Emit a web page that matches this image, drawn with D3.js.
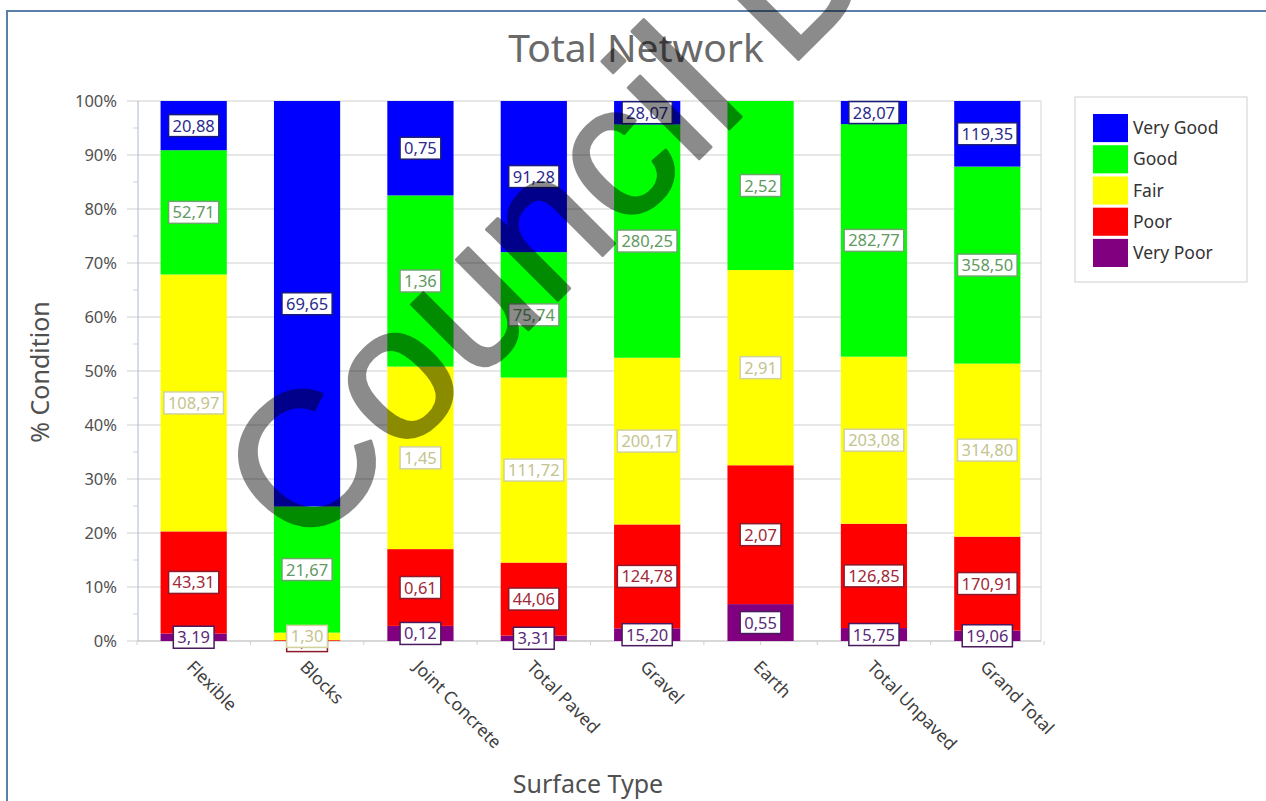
<!DOCTYPE html>
<html>
<head>
<meta charset="utf-8">
<script src="https://cdn.jsdelivr.net/npm/d3@7/dist/d3.min.js"></script>
<style>
  html, body { margin: 0; padding: 0; background: #ffffff; }
  svg { display: block; }
  text { font-family: "Noto Sans", "Open Sans", sans-serif; }
</style>
</head>
<body>
<svg id="chart" width="1266" height="801"></svg>
<script>
// Road lengths (km) per surface type and condition class
const categories = ["Flexible", "Blocks", "Joint Concrete", "Total Paved", "Gravel", "Earth", "Total Unpaved", "Grand Total"];
const seriesNames = ["Very Good", "Good", "Fair", "Poor", "Very Poor"];
const veryGood = [20.88, 69.65, 0.75, 91.28, 28.07, 0, 28.07, 119.35];
const good     = [52.71, 21.67, 1.36, 75.74, 280.25, 2.52, 282.77, 358.50];
const fair     = [108.97, 1.30, 1.45, 111.72, 200.17, 2.91, 203.08, 314.80];
const poor     = [43.31, 0.14, 0.61, 44.06, 124.78, 2.07, 126.85, 170.91];
const veryPoor = [3.19, 0, 0.12, 3.31, 15.20, 0.55, 15.75, 19.06];
const yTickValues = [0, 0.1, 0.2, 0.3, 0.4, 0.5, 0.6, 0.7, 0.8, 0.9, 1.0];

const seriesValues = {
  "Very Good": veryGood, "Good": good, "Fair": fair, "Poor": poor, "Very Poor": veryPoor
};
const fillColor = {
  "Very Good": "#0000ff", "Good": "#00ff00", "Fair": "#ffff00", "Poor": "#ff0000", "Very Poor": "#800080"
};
const labelText = {
  "Very Good": "#2b2b8c", "Good": "#5f9a5f", "Fair": "#c4c48e", "Poor": "#a02838", "Very Poor": "#5a2a78"
};
const labelBorder = {
  "Very Good": "#1a1a7a", "Good": "#6aa86a", "Fair": "#d2d29a", "Poor": "#8c1a2a", "Very Poor": "#4a1a5e"
};

const rows = categories.map((c, i) => {
  const r = { category: c };
  seriesNames.forEach(s => { r[s] = seriesValues[s][i]; });
  return r;
});

const svg = d3.select("#chart");

// outer frame
svg.append("rect")
  .attr("x", 7).attr("y", 11).attr("width", 1290).attr("height", 820)
  .attr("fill", "none").attr("stroke", "#5b7fa8").attr("stroke-width", 2);

const plot = { left: 138, right: 1041, top: 101, bottom: 641 };

const x = d3.scaleBand()
  .domain(categories)
  .range([plot.left - 1, plot.right + 3])
  .paddingInner(0.416)
  .paddingOuter(0.208);

const y = d3.scaleLinear().domain([0, 1]).range([plot.bottom, plot.top]);

// stack bottom-up, normalised to 100 %
const stackKeys = seriesNames.slice().reverse();
const stacked = d3.stack().keys(stackKeys).offset(d3.stackOffsetExpand)(rows);

// gridlines
svg.append("g")
  .selectAll("line")
  .data(yTickValues)
  .join("line")
  .attr("x1", plot.left - 11).attr("x2", plot.right)
  .attr("y1", d => y(d)).attr("y2", d => y(d))
  .attr("stroke", "#cfcfcf").attr("stroke-width", 1);

// minor ticks on the value axis
svg.append("g")
  .selectAll("line")
  .data(yTickValues.slice(0, -1).map(d => d + 0.05))
  .join("line")
  .attr("x1", plot.left - 5).attr("x2", plot.left)
  .attr("y1", d => y(d)).attr("y2", d => y(d))
  .attr("stroke", "#cfcfcf").attr("stroke-width", 1);

// plot frame
svg.append("line").attr("x1", plot.right).attr("x2", plot.right)
  .attr("y1", plot.top).attr("y2", plot.bottom).attr("stroke", "#d4d4d4");
svg.append("line").attr("x1", plot.left).attr("x2", plot.left)
  .attr("y1", plot.top).attr("y2", plot.bottom).attr("stroke", "#a9b8d6");
svg.append("line").attr("x1", plot.left).attr("x2", plot.right)
  .attr("y1", plot.bottom).attr("y2", plot.bottom).attr("stroke", "#c8c8c8");

// small ticks under the category axis
const step = x.step();
const catTicks = [];
categories.forEach(c => {
  const cx = x(c) + x.bandwidth() / 2;
  catTicks.push(cx - step / 2, cx);
});
catTicks.push(x(categories[categories.length - 1]) + x.bandwidth() / 2 + step / 2);
svg.append("g")
  .selectAll("line")
  .data(catTicks)
  .join("line")
  .attr("x1", d => d).attr("x2", d => d)
  .attr("y1", plot.bottom).attr("y2", plot.bottom + 4)
  .attr("stroke", "#d0d0d0");

// value axis labels
svg.append("g")
  .selectAll("text")
  .data(yTickValues)
  .join("text")
  .attr("x", 117)
  .attr("y", d => y(d) + 6)
  .attr("text-anchor", "end")
  .attr("font-size", 16.5)
  .attr("fill", "#505050")
  .text(d3.format(".0%"));

// bars
const layers = svg.append("g")
  .selectAll("g")
  .data(stacked)
  .join("g")
  .attr("fill", d => fillColor[d.key]);

layers.selectAll("rect")
  .data(d => d)
  .join("rect")
  .attr("x", d => x(d.data.category))
  .attr("width", x.bandwidth())
  .attr("y", d => y(d[1]))
  .attr("height", d => y(d[0]) - y(d[1]));

// data labels (raw km values, centred on each segment)
const fmt = v => v.toFixed(2).replace(".", ",");
const labelLayer = svg.append("g");
stacked.forEach(layer => {
  layer.forEach(seg => {
    const v = seg.data[layer.key];
    if (!v) return;
    const cx = x(seg.data.category) + x.bandwidth() / 2;
    const cy = y((seg[0] + seg[1]) / 2);
    const g = labelLayer.append("g");
    const rect = g.append("rect")
      .attr("fill", "#ffffff")
      .attr("stroke", labelBorder[layer.key])
      .attr("stroke-width", 1.5);
    const t = g.append("text")
      .attr("x", cx).attr("y", cy + 6)
      .attr("text-anchor", "middle")
      .attr("font-size", 16.5)
      .attr("fill", labelText[layer.key])
      .text(fmt(v));
    const w = t.node().getComputedTextLength() + 8;
    rect.attr("x", cx - w / 2).attr("y", cy - 11).attr("width", w).attr("height", 22);
  });
});

// category labels, rotated
svg.append("g")
  .selectAll("text")
  .data(categories)
  .join("text")
  .attr("transform", d => `translate(${x(d) + x.bandwidth() / 2 - 8},${plot.bottom + 27}) rotate(45)`)
  .attr("font-size", 17.5)
  .attr("fill", "#404040")
  .text(d => d);

// titles
svg.append("text")
  .attr("x", 636).attr("y", 62)
  .attr("text-anchor", "middle")
  .attr("font-size", 39)
  .attr("fill", "#6a6a6a")
  .text("Total Network");

svg.append("text")
  .attr("x", 588).attr("y", 793)
  .attr("text-anchor", "middle")
  .attr("font-size", 25)
  .attr("fill", "#505050")
  .text("Surface Type");

svg.append("text")
  .attr("transform", "translate(49,372) rotate(-90)")
  .attr("text-anchor", "middle")
  .attr("font-size", 25)
  .attr("fill", "#505050")
  .text("% Condition");

// legend
const legend = svg.append("g");
legend.append("rect")
  .attr("x", 1075).attr("y", 97).attr("width", 172).attr("height", 185)
  .attr("fill", "#ffffff").attr("stroke", "#cfcfcf");
const legendY = d3.scaleBand().domain(seriesNames).range([114, 267]).paddingInner(0.1);
const items = legend.selectAll("g.item")
  .data(seriesNames)
  .join("g").attr("class", "item");
items.append("rect")
  .attr("x", 1093).attr("width", 35)
  .attr("y", d => legendY(d)).attr("height", legendY.bandwidth())
  .attr("fill", d => fillColor[d]);
items.append("text")
  .attr("x", 1133)
  .attr("y", d => legendY(d) + legendY.bandwidth() / 2 + 6)
  .attr("font-size", 17.5)
  .attr("fill", "#333333")
  .text(d => d);

// watermark, composited as one translucent layer
svg.append("g")
  .attr("opacity", 0.45)
  .append("text")
  .attr("transform", "translate(302,556) rotate(-45)")
  .style("font-family", "'Liberation Sans', Arial, sans-serif")
  .attr("font-size", 190)
  .attr("fill", "#000000")
  .attr("stroke", "#000000")
  .attr("stroke-width", 3)
  .attr("stroke-linejoin", "round")
  .text("Council D");
</script>
</body>
</html>
